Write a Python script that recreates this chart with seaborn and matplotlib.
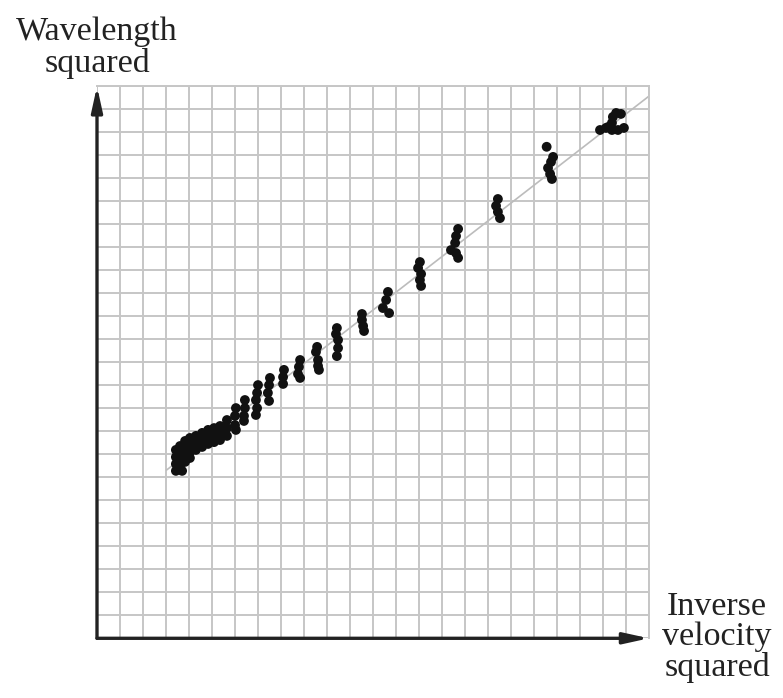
import matplotlib
matplotlib.use("Agg")
import matplotlib.pyplot as plt
import seaborn as sns
import pandas as pd

# ---- data (grid units) ----
inv_velocity_sq = [
    5.65, 5.65, 5.65, 5.35, 5.35, 5.35, 5.09, 5.09, 5.09, 4.83, 4.83, 4.83,
    4.57, 4.57, 4.57, 4.30, 4.30, 4.30, 4.04, 4.04, 4.04, 4.04,
    3.83, 3.83, 3.83, 3.83, 3.61, 3.61, 3.61, 3.61, 3.43, 3.43, 3.43, 3.43, 3.70,
    6.04, 6.00, 6.00, 6.04,
    6.43, 6.43, 6.39, 6.39,
    7.00, 6.96, 6.91, 6.96, 6.91,
    7.52, 7.48, 7.43, 7.48,
    8.13, 8.09, 8.09,
    8.83, 8.78, 8.74, 8.83,
    9.57, 9.52, 9.61, 9.61, 9.65,
    10.43, 10.39, 10.48, 10.48, 10.43,
    11.52, 11.52, 11.57, 11.61,
    12.65, 12.57, 12.43, 12.70,
    14.04, 13.96, 14.09, 14.04, 14.09,
    15.70, 15.61, 15.57, 15.39, 15.61, 15.70,
    17.43, 17.35, 17.43, 17.52,
    19.55, 19.83, 19.74, 19.61, 19.70, 19.78,
    21.87, 22.13, 22.39, 22.65, 22.91, 22.39, 22.43, 22.57, 22.78, 22.22,
]
wavelength_sq = [
    9.49, 9.14, 8.80, 9.23, 8.93, 8.62, 9.14, 8.84, 8.53, 9.06, 8.75, 8.45,
    8.93, 8.62, 8.32, 8.80, 8.49, 8.19, 8.71, 8.40, 8.10, 7.84,
    8.58, 8.27, 7.97, 7.67, 8.36, 8.06, 7.75, 7.45, 8.19, 7.88, 7.58, 7.28, 7.28,
    10.01, 9.67, 9.27, 9.06,
    10.36, 10.01, 9.67, 9.45,
    11.01, 10.67, 10.36, 10.01, 9.71,
    11.32, 11.01, 10.67, 10.32,
    11.67, 11.36, 11.06,
    12.10, 11.80, 11.49, 11.32,
    12.67, 12.45, 12.10, 11.84, 11.67,
    13.49, 13.23, 12.97, 12.62, 12.27,
    14.10, 13.84, 13.58, 13.36,
    15.06, 14.71, 14.36, 14.14,
    16.36, 16.10, 15.84, 15.58, 15.32,
    17.80, 17.49, 17.19, 16.88, 16.75, 16.54,
    19.10, 18.80, 18.54, 18.27,
    21.37, 20.93, 20.71, 20.45, 20.19, 19.97,
    22.10, 22.19, 22.10, 22.10, 22.19, 22.41, 22.67, 22.84, 22.80, 22.23,
]
fit_x = [3.03, 23.97]
fit_y = [7.32, 23.55]

x_label = "Inverse\nvelocity\nsquared"
y_label = "Wavelength\nsquared"

df = pd.DataFrame({"x": inv_velocity_sq, "y": wavelength_sq})
fit = pd.DataFrame({"x": fit_x, "y": fit_y})

sns.set_theme(style="white")
plt.rcParams["font.family"] = ["Liberation Serif", "DejaVu Serif"]

fig = plt.figure(figsize=(7.83, 6.98), dpi=100)
ax = fig.add_axes([97 / 783, 59.7 / 698, 552 / 783, 552 / 698])

ax.set_xlim(0, 24)
ax.set_ylim(0, 24)
ax.set_xticks(range(0, 25))
ax.set_yticks(range(0, 25))
ax.grid(True, color="#c6c6c6", linewidth=1.4)
ax.tick_params(length=0, labelbottom=False, labelleft=False)
ax.set_axisbelow(True)
for side in ("top", "right"):
    ax.spines[side].set_color("#c6c6c6")
    ax.spines[side].set_linewidth(1.4)
for side in ("left", "bottom"):
    ax.spines[side].set_visible(False)

sns.lineplot(data=fit, x="x", y="y", ax=ax, color="#bcbcbc", linewidth=1.2, zorder=2)
sns.scatterplot(data=df, x="x", y="y", ax=ax, color="#111111", s=50,
                edgecolor="none", linewidth=0, zorder=3)
ax.set_xlabel("")
ax.set_ylabel("")

arrow_kw = dict(arrowstyle="-|>,head_length=1.5,head_width=0.33",
                color="#222222", lw=2.4, shrinkA=0, shrinkB=0,
                mutation_scale=10)
ax.annotate("", xy=(0, 1), xytext=(0, 0), xycoords="axes fraction",
            arrowprops=arrow_kw, annotation_clip=False, zorder=5)
ax.annotate("", xy=(1, 0), xytext=(0, 0), xycoords="axes fraction",
            arrowprops=arrow_kw, annotation_clip=False, zorder=5)

fig.text(97 / 783, 1 - 48 / 698, y_label, ha="center", va="center",
         fontsize=24.5, linespacing=1.05, color="#222222")
fig.text(717 / 783, 1 - 637 / 698, x_label, ha="center", va="center",
         fontsize=24.5, linespacing=0.98, color="#222222")

fig.savefig("out.png", dpi=100)
